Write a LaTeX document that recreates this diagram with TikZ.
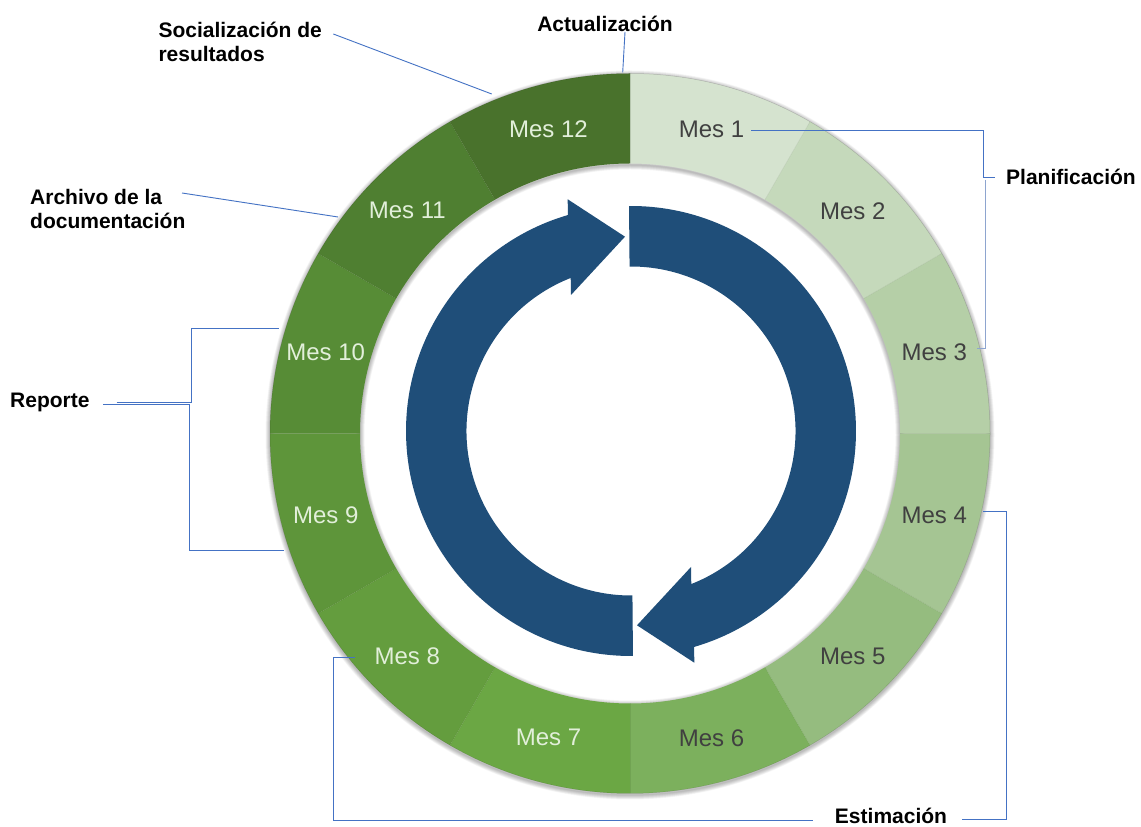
\documentclass[tikz,border=0pt]{standalone}
\usepackage{fontspec}
\setmainfont{Liberation Sans}
\usetikzlibrary{calc}
\definecolor{c1}{HTML}{D5E3CF}
\definecolor{c2}{HTML}{C5D9BB}
\definecolor{c3}{HTML}{B5CFA7}
\definecolor{c4}{HTML}{A5C593}
\definecolor{c5}{HTML}{95BC7F}
\definecolor{c6}{HTML}{7CB05D}
\definecolor{c7}{HTML}{6BA744}
\definecolor{c8}{HTML}{649D3E}
\definecolor{c9}{HTML}{5E953A}
\definecolor{c10}{HTML}{578C36}
\definecolor{c11}{HTML}{4F7F31}
\definecolor{c12}{HTML}{49722C}
\definecolor{lnk}{HTML}{4472C4}
\definecolor{lnkb}{HTML}{8EA5CF}
\definecolor{arr}{HTML}{1F4E79}
\definecolor{dtxt}{HTML}{404040}
\definecolor{ltxt}{HTML}{E2EFDA}
\begin{document}
\begin{tikzpicture}[x=1pt,y=1pt,
  mes/.style={font=\fontsize{24}{28}\selectfont, inner sep=0pt},
  lbl/.style={font=\fontsize{21}{24}\selectfont\bfseries, inner sep=0pt, align=left, text=black},
  conn/.style={draw=lnk, line width=0.9pt},
  connb/.style={draw=lnkb, line width=0.9pt},
  arrowfill/.style={fill=arr}]
\useasboundingbox (0,0) rectangle (1141,827);
\fill[white] (0,0) rectangle (1141,827);

% ---------- ring ----------
\begin{scope}[shift={(630,393.5)}]
  \foreach \i in {1,...,9} {
    \draw[black, opacity=0.03, line width=\i pt] (0,-1.5) circle[radius=360pt];
    \draw[black, opacity=0.03, line width=\i pt] (0,-1.5) circle[radius=270pt];
  }
  \foreach \k/\c in {1/c1,2/c2,3/c3,4/c4,5/c5,6/c6,7/c7,8/c8,9/c9,10/c10,11/c11,12/c12} {
    \pgfmathsetmacro\sa{90-30*(\k-1)}
    \pgfmathsetmacro\ea{90-30*\k}
    \fill[\c] (\sa:360) arc[start angle=\sa, end angle=\ea, radius=360pt]
      -- (\ea:270) arc[start angle=\ea, end angle=\sa, radius=270pt] -- cycle;
  }
  \foreach \k in {1,...,12} {
    \pgfmathsetmacro\ea{90-30*\k}
    \draw[black, opacity=0.06, line width=0.6pt] (\ea:270) -- (\ea:360);
  }
  \draw[black, opacity=0.15, line width=0.5pt] (0,0) circle[radius=360pt];
  \foreach \k/\t in {1/dtxt,2/dtxt,3/dtxt,4/dtxt,5/dtxt,6/dtxt,7/ltxt,8/ltxt,9/ltxt,10/ltxt,11/ltxt,12/ltxt} {
    \node[mes, text=\t] (m\k) at ({105-30*\k}:315) {Mes \k};
  }
\end{scope}

% ---------- circular arrows ----------
\foreach \rot in {0,180} {
  \begin{scope}[shift={(631,396)}, rotate=\rot]
    \fill[arrowfill] (270.5:225) arc[start angle=270.5, end angle=106.3, radius=225pt]
      -- (-63.3,231.7) -- (-6,194.3) -- (-60,136)
      -- (111.5:164.5) arc[start angle=111.5, end angle=270.5, radius=164.5pt] -- cycle;
  \end{scope}
}

% ---------- labels ----------
\node[lbl, anchor=base] (act) at (605,795) {Actualización};
\node[lbl, anchor=north west] (soc) at (158.3,805) {Socialización de\\resultados};
\node[lbl, anchor=north west] (arc) at (30,638) {Archivo de la\\documentación};
\node[lbl, anchor=base west] (rep) at (10,419.3) {Reporte};
\node[lbl, anchor=base west] (pla) at (1006,642) {Planificación};
\node[lbl, anchor=base] (est) at (891,3) {Estimación};

% ---------- connector end points ----------
\coordinate (actA) at (625,795);
\coordinate (actB) at (622.7,754.5);
\coordinate (socA) at (333.3,793);
\coordinate (socB) at (491.7,733);
\coordinate (arcA) at (182,634);
\coordinate (arcB) at (338,610);
\coordinate (repA) at (103,422.7);
\coordinate (repB) at (116.7,424.7);
\coordinate (r9) at (284,277);
\coordinate (r10) at (279.3,498.7);
\coordinate (r1) at (751,696.3);
\coordinate (plaA) at (995,649.7);
\coordinate (plaB) at (985,647);
\coordinate (r3) at (976.7,478.7);
\coordinate (r4) at (983.3,315.3);
\coordinate (r8) at (355,169.3);
\coordinate (estR) at (962,7.3);
\coordinate (estL) at (813,7);

% ---------- connectors ----------
\draw[conn] (actA) -- (actB);
\draw[conn] (socA) -- (socB);
\draw[conn] (arcA) -- (arcB);
\draw[conn] (repA) -- (189,422.7) |- (r9);
\draw[conn] (repB) -- (191.7,424.7) |- (r10);
\draw[conn] (r1) -- (983.3,696.3) |- (plaA);
\draw[connb] (plaB) |- (r3);
\draw[conn] (r4) -- (1006.7,315.3) |- (estR);
\draw[conn] (r8) -- (333.3,169.3) |- (estL);
\end{tikzpicture}
\end{document}
